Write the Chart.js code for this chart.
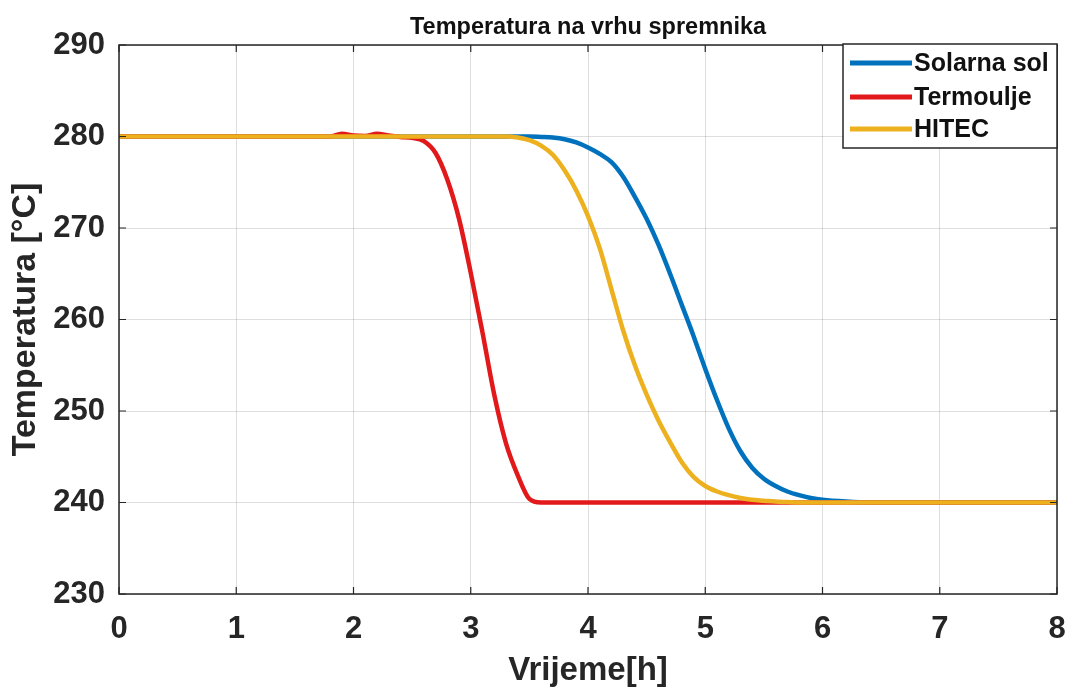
<!DOCTYPE html>
<html>
<head>
<meta charset="utf-8">
<script src="https://cdn.jsdelivr.net/npm/chart.js@4/dist/chart.umd.min.js"></script>
<style>
  html, body { margin: 0; padding: 0; background: #fff; }
  #wrap { width: 1072px; height: 691px; }
</style>
</head>
<body>
<div id="wrap"><canvas id="c" width="1072" height="691"></canvas></div>
<script>
const chartTitle = "Temperatura na vrhu spremnika";
const xTitle = "Vrijeme[h]";
const yTitle = "Temperatura [°C]";
const seriesNames = ["Solarna sol", "Termoulje", "HITEC"];
const seriesColors = ["#0072BD", "#E2191B", "#EDB120"];

const times = [0,0.5,1,1.5,1.8,1.9,2.0,2.1,2.2,2.3,2.4,2.5,2.6,2.7,2.8,2.9,3.0,3.1,3.2,3.3,3.4,3.5,
  3.6,3.7,3.8,3.9,4.0,4.1,4.2,4.3,4.4,4.5,4.6,4.7,4.8,4.9,5.0,5.1,5.2,5.3,5.4,5.5,5.6,5.7,5.8,5.9,6.0,
  6.2,6.4,6.6,7,7.5,8];

const solarnaSol = [280,280,280,280,280,280,280,280,280,280,280,280,280,280,280,280,280,280,280,280,280,280,
  279.95,279.88,279.7,279.35,278.8,278.1,277.2,275.6,273.4,271.0,268.2,265.0,261.6,258.2,254.6,251.2,248.1,245.6,243.8,242.6,241.8,241.2,240.8,240.5,240.3,
  240.1,240,240,240,240,240];

const termoulje = [280,280,280,280,280,280.3,280.1,280.05,280.3,280.1,279.95,279.85,279.5,278.2,275.3,271.0,265.1,258.6,251.8,246.5,243.0,240.4,
  240,240,240,240,240,240,240,240,240,240,240,240,240,240,240,240,240,240,240,240,240,240,240,240,240,
  240,240,240,240,240,240];

const hitec = [280,280,280,280,280,280,280,280,280,280,280,280,280,280,280,280,280,280,280,280,279.9,279.6,
  279.0,278.0,276.3,274.1,271.3,267.8,263.3,258.8,255.0,251.8,249.0,246.6,244.4,242.8,241.8,241.2,240.8,240.5,240.3,240.2,240.1,240.05,240,240,240,
  240,240,240,240,240,240];

const xTicks = [0,1,2,3,4,5,6,7,8];
const yTicks = [230,240,250,260,270,280,290];

const seriesValues = [solarnaSol, termoulje, hitec];
const drawOrder = [2, 1, 0];

const datasets = seriesNames.map((name, i) => ({
  label: name,
  data: times.map((t, k) => ({ x: t, y: seriesValues[i][k] })),
  borderColor: seriesColors[i],
  backgroundColor: seriesColors[i],
  borderWidth: 4.5,
  pointRadius: 0,
  cubicInterpolationMode: 'monotone',
  fill: false,
  order: drawOrder[i]
}));

const FONT = "'Liberation Sans', Arial, Helvetica, sans-serif";

const boxPlugin = {
  id: 'boxPlugin',
  afterDatasetsDraw(chart) {
    const { ctx, chartArea: a, scales } = chart;
    ctx.save();
    // title centred over the plot area
    ctx.fillStyle = '#111';
    ctx.font = "bold 23.5px " + FONT;
    ctx.textAlign = 'center';
    ctx.textBaseline = 'middle';
    ctx.fillText(chartTitle, (a.left + a.right) / 2, a.top - 17);

    ctx.strokeStyle = '#262626';
    ctx.lineWidth = 1.5;
    ctx.strokeRect(a.left, a.top, a.right - a.left, a.bottom - a.top);
    ctx.lineWidth = 1.2;
    const tl = 7;
    ctx.beginPath();
    scales.x.ticks.forEach(t => {
      const px = scales.x.getPixelForValue(t.value);
      ctx.moveTo(px, a.bottom); ctx.lineTo(px, a.bottom - tl);
      ctx.moveTo(px, a.top); ctx.lineTo(px, a.top + tl);
    });
    scales.y.ticks.forEach(t => {
      const py = scales.y.getPixelForValue(t.value);
      ctx.moveTo(a.left, py); ctx.lineTo(a.left + tl, py);
      ctx.moveTo(a.right, py); ctx.lineTo(a.right - tl, py);
    });
    ctx.stroke();

    // legend box (inside top-right)
    const w = 214, h = 104;
    const lx = a.right - w, ly = a.top - 1;
    ctx.fillStyle = '#fff';
    ctx.fillRect(lx, ly, w, h);
    ctx.strokeStyle = '#262626';
    ctx.lineWidth = 1.5;
    ctx.strokeRect(lx, ly, w, h);
    const rows = [19, 53, 85];
    ctx.font = "bold 25px " + FONT;
    ctx.textBaseline = 'middle';
    ctx.textAlign = 'left';
    chart.data.datasets.forEach((ds, i) => {
      const y = ly + rows[i];
      ctx.strokeStyle = ds.borderColor;
      ctx.lineWidth = 5;
      ctx.beginPath();
      ctx.moveTo(lx + 7, y);
      ctx.lineTo(lx + 69, y);
      ctx.stroke();
      ctx.fillStyle = '#111';
      ctx.fillText(ds.label, lx + 71, y + 1);
    });
    ctx.restore();
  }
};

new Chart(document.getElementById('c'), {
  type: 'line',
  data: { datasets },
  plugins: [boxPlugin],
  options: {
    responsive: false,
    animation: false,
    devicePixelRatio: 1,
    layout: { padding: { left: 0, right: 15, top: 45, bottom: 0 } },
    plugins: {
      legend: { display: false },
      tooltip: { enabled: false },
      title: { display: false }
    },
    scales: {
      x: {
        type: 'linear',
        min: 0, max: 8,
        afterBuildTicks(scale) { scale.ticks = xTicks.map(v => ({ value: v })); },
        afterFit(scale) { scale.height = 97; scale.paddingLeft = 0; scale.paddingRight = 0; },
        ticks: {
          color: '#262626',
          padding: 17,
          maxRotation: 0,
          font: { family: FONT, size: 31, weight: 'bold' },
          callback: v => String(v)
        },
        grid: { color: 'rgba(0,0,0,0.13)', lineWidth: 1, drawTicks: false },
        border: { display: false },
        title: {
          display: true,
          text: xTitle,
          color: '#262626',
          font: { family: FONT, size: 33, weight: 'bold', lineHeight: 1.2 },
          padding: { top: 0, bottom: 0 }
        }
      },
      y: {
        type: 'linear',
        min: 230, max: 290,
        afterBuildTicks(scale) { scale.ticks = yTicks.map(v => ({ value: v })); },
        afterFit(scale) { scale.width = 119; scale.paddingTop = 0; scale.paddingBottom = 0; },
        ticks: {
          color: '#262626',
          padding: 14,
          font: { family: FONT, size: 31, weight: 'bold' },
          callback: v => String(v)
        },
        grid: { color: 'rgba(0,0,0,0.13)', lineWidth: 1, drawTicks: false },
        border: { display: false },
        title: {
          display: true,
          text: yTitle,
          color: '#262626',
          font: { family: FONT, size: 34, weight: 'bold', lineHeight: 1.2 },
          padding: { top: 5, bottom: 0 }
        }
      }
    }
  }
});
</script>
</body>
</html>
